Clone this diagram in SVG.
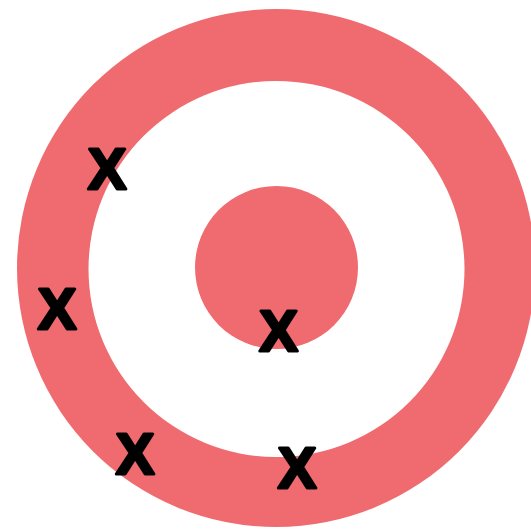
<svg xmlns="http://www.w3.org/2000/svg" width="531" height="530" viewBox="0 0 531 530">
<style>
.ring{fill:#EF6B70}
.hole{fill:#FFFFFF}
.mark{font-family:"Liberation Sans",Arial,sans-serif;font-weight:bold;font-size:58px;fill:#000;stroke:#000;stroke-width:3;stroke-linejoin:round;text-anchor:middle}
</style>
<rect width="531" height="530" fill="#FFFFFF"/>
<g id="outer">
<circle class="ring" cx="276" cy="268" r="259"/>
<circle class="hole" cx="276.5" cy="269" r="188"/>
</g>
<g id="center">
<circle class="ring" cx="276.5" cy="267.5" r="81.5"/>
</g>
<g id="marks">
<text class="mark" x="107" y="189">X</text>
<text class="mark" x="57" y="329">X</text>
<text class="mark" x="278.5" y="351">X</text>
<text class="mark" x="135" y="474">X</text>
<text class="mark" x="297" y="488">X</text>
</g>
</svg>
